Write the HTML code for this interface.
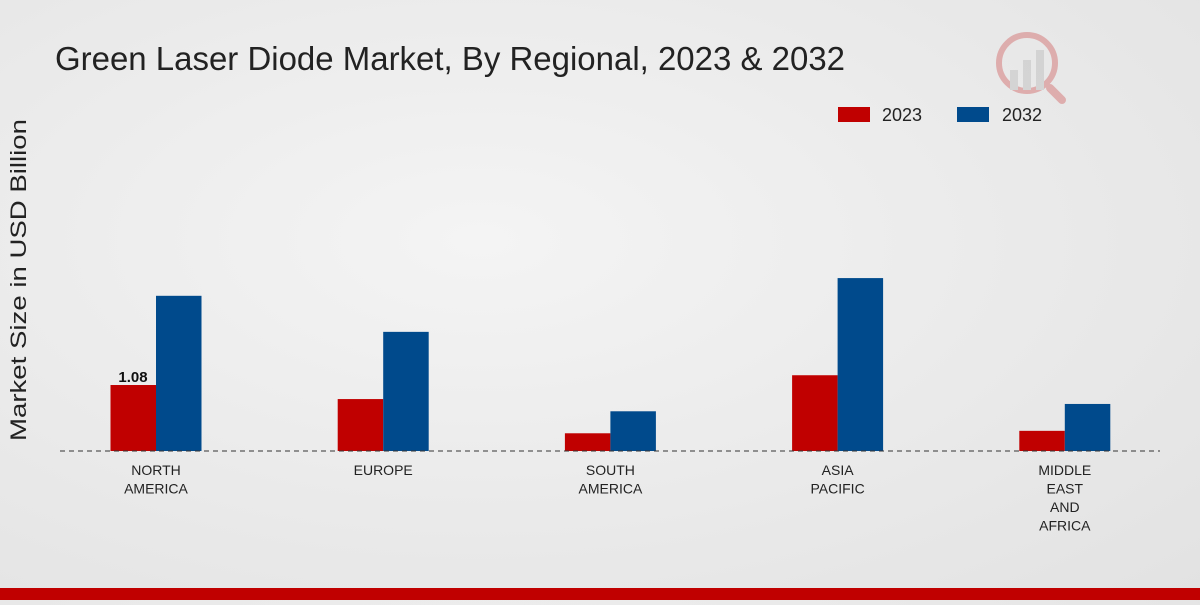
<!DOCTYPE html>
<html><head><meta charset="utf-8"><style>
html,body{margin:0;padding:0;}
body{width:1200px;height:600px;overflow:hidden;background:radial-gradient(ellipse at 40% 40%,#f4f4f4 0%,#e9e9e9 60%,#e2e2e2 100%);font-family:"Liberation Sans",sans-serif;}
</style></head><body>
<svg id="chart" width="1200" height="600" xmlns="http://www.w3.org/2000/svg">
<text x="55" y="70" font-size="33" fill="#222" textLength="790" lengthAdjust="spacingAndGlyphs">Green Laser Diode Market, By Regional, 2023 &amp; 2032</text>
<text transform="translate(26,280) rotate(-90)" text-anchor="middle" font-size="22" fill="#222" textLength="322" lengthAdjust="spacingAndGlyphs">Market Size in USD Billion</text>
<g>
<rect x="838" y="107" width="32" height="15" fill="#c00000"/>
<text x="882" y="121" font-size="18" fill="#222">2023</text>
<rect x="957" y="107" width="32" height="15" fill="#004a8c"/>
<text x="1002" y="121" font-size="18" fill="#222">2032</text>
</g>
<g opacity="0.25">
<circle cx="1027" cy="63" r="28" fill="none" stroke="#c00000" stroke-width="6"/>
<rect x="1010" y="70" width="8" height="20" fill="#999"/><rect x="1023" y="60" width="8" height="30" fill="#999"/><rect x="1036" y="50" width="8" height="40" fill="#999"/>
<line x1="1050" y1="88" x2="1062" y2="100" stroke="#c00000" stroke-width="8" stroke-linecap="round"/>
</g>
<g id="bars"></g>
<line x1="60" y1="451" x2="1160" y2="451" stroke="#333" stroke-width="1" stroke-dasharray="5,4"/>
<g id="xlabels"></g>
<rect x="0" y="588" width="1200" height="12" fill="#c00000"/>
</svg>
<script>
const categories=[["NORTH","AMERICA"],["EUROPE"],["SOUTH","AMERICA"],["ASIA","PACIFIC"],["MIDDLE","EAST","AND","AFRICA"]];
const values2023=[1.08,0.85,0.29,1.24,0.33];
const values2032=[2.54,1.95,0.65,2.83,0.77];
const ns="http://www.w3.org/2000/svg";
const baseY=451,scale=61.1;
function xCenter(i){return 156+i*227.2;}
function yPos(v){return baseY-v*scale;}
const bars=document.getElementById('bars'),xl=document.getElementById('xlabels');
categories.forEach((c,i)=>{
  const cx=xCenter(i);
  [[values2023,'#c00000',-45.5,'2023'],[values2032,'#004a8c',0,'2032']].forEach(([arr,col,off,yr])=>{
    const r=document.createElementNS(ns,'rect');
    
    
    r.setAttribute('x',cx+off);r.setAttribute('width',45.5);
    r.setAttribute('y',yPos(arr[i]));r.setAttribute('height',baseY-yPos(arr[i]));
    r.setAttribute('fill',col);bars.appendChild(r);
  });
  c.forEach((line,j)=>{
    const t=document.createElementNS(ns,'text');
    
    
    t.setAttribute('x',cx);t.setAttribute('y',475+j*18.5);
    t.setAttribute('text-anchor','middle');t.setAttribute('font-size','14');t.setAttribute('fill','#222');
    t.textContent=line;xl.appendChild(t);
  });
});
const lbl=document.createElementNS(ns,'text');


lbl.setAttribute('x',xCenter(0)-23);lbl.setAttribute('y',yPos(values2023[0])-3);
lbl.setAttribute('text-anchor','middle');lbl.setAttribute('font-size','15');lbl.setAttribute('font-weight','bold');lbl.setAttribute('fill','#111');
lbl.textContent=values2023[0].toFixed(2);bars.appendChild(lbl);
</script>
</body></html>
